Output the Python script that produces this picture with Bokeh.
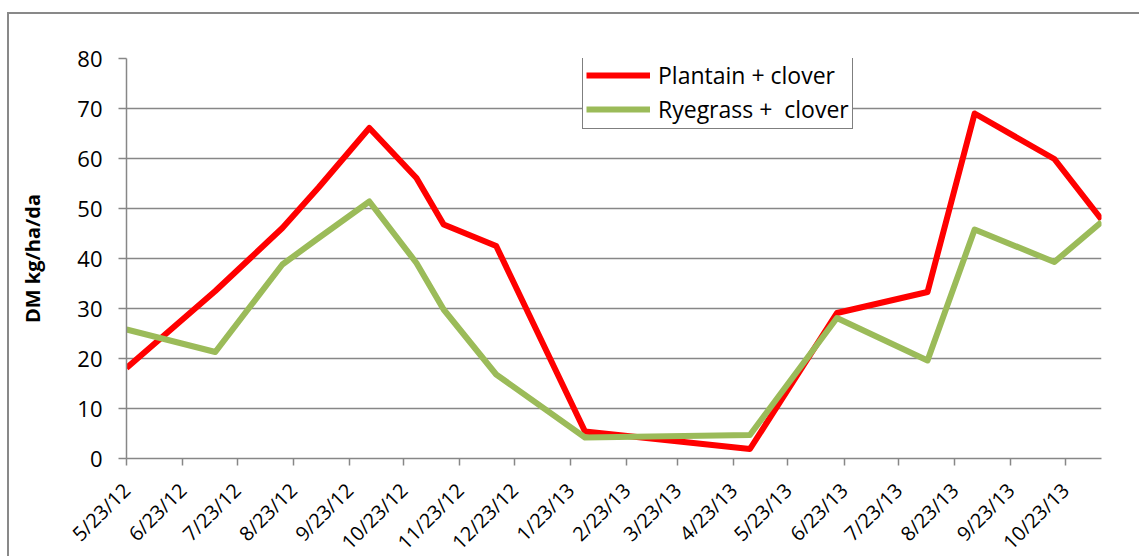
import pandas as pd
from math import pi
from bokeh.plotting import figure
from bokeh.models import FixedTicker, Range1d, Legend, LegendItem
from bokeh.embed import file_html
from bokeh.resources import INLINE

# ---- data ----
dates = ["2012-05-23", "2012-07-11", "2012-08-17", "2012-09-06", "2012-10-04",
         "2012-10-30", "2012-11-14", "2012-12-13", "2013-01-31", "2013-05-02",
         "2013-06-19", "2013-08-08", "2013-09-03", "2013-10-17", "2013-11-12"]
plantain = [18.1, 33.5, 46.1, 54.2, 66.1, 56.1, 46.8, 42.5, 5.4, 1.9,
            29.1, 33.3, 69.0, 59.9, 47.8]
ryegrass = [25.8, 21.3, 38.8, 44.1, 51.4, 39.1, 29.8, 16.8, 4.2, 4.7,
            28.1, 19.6, 45.8, 39.3, 47.3]
series_names = ["Plantain + clover", "Ryegrass +  clover"]
tick_labels = ["5/23/12", "6/23/12", "7/23/12", "8/23/12", "9/23/12", "10/23/12",
               "11/23/12", "12/23/12", "1/23/13", "2/23/13", "3/23/13", "4/23/13",
               "5/23/13", "6/23/13", "7/23/13", "8/23/13", "9/23/13", "10/23/13"]
y_ticks = [0, 10, 20, 30, 40, 50, 60, 70, 80]
x_start, x_end = "2012-05-23", "2013-11-12"
y_label = "DM kg/ha/da"


def ms(ts):
    return int(pd.Timestamp(ts).value // 10**6)


x = [ms(d) for d in dates]
tick_ms = [ms(pd.to_datetime(t, format="%m/%d/%y")) for t in tick_labels]

FONT = "Open Sans"
GRID = "#878787"

p = figure(frame_width=975, frame_height=400, x_axis_type="datetime",
           x_range=Range1d(ms(x_start), ms(x_end)), y_range=Range1d(0, 80),
           output_backend="svg", toolbar_location=None,
           min_border_left=117, min_border_top=44, min_border_right=38,
           min_border_bottom=0)
# outer chart-area frame: only its top and left edges fall inside the window
p.styles = {"margin-left": "7px", "margin-top": "12px",
            "border-top": "2px solid #898989", "border-left": "2px solid #898989",
            "height": "544px", "overflow": "hidden"}
p.outline_line_color = None
p.background_fill_color = "white"
p.border_fill_color = "white"

r1 = p.line(x, plantain, line_color="#FF0000", line_width=6, line_join="round")
r2 = p.line(x, ryegrass, line_color="#9BBB59", line_width=6, line_join="round")

# grid
p.xgrid.grid_line_color = None
p.ygrid.grid_line_color = GRID
p.ygrid.grid_line_width = 1.5

# y axis
p.yaxis.ticker = FixedTicker(ticks=y_ticks)
p.yaxis.axis_line_color = GRID
p.yaxis.axis_line_width = 1.5
p.yaxis.major_tick_line_color = GRID
p.yaxis.major_tick_line_width = 1.5
p.yaxis.major_tick_out = 8
p.yaxis.major_tick_in = 0
p.yaxis.minor_tick_line_color = None
p.yaxis.major_label_text_font = FONT
p.yaxis.major_label_text_font_size = "22px"
p.yaxis.major_label_text_color = "black"
p.yaxis.major_label_standoff = 16
p.yaxis.axis_label = y_label
p.yaxis.axis_label_text_font = FONT
p.yaxis.axis_label_text_font_style = "bold"
p.yaxis.axis_label_text_font_size = "20px"
p.yaxis.axis_label_text_color = "black"
p.yaxis.axis_label_standoff = 28

# x axis
p.xaxis.ticker = FixedTicker(ticks=tick_ms)
p.xaxis.major_label_overrides = {t: l for t, l in zip(tick_ms, tick_labels)}
p.xaxis.major_label_orientation = pi / 4
p.xaxis.axis_line_color = GRID
p.xaxis.axis_line_width = 1.5
p.xaxis.major_tick_line_color = GRID
p.xaxis.major_tick_line_width = 1.5
p.xaxis.major_tick_out = 7
p.xaxis.major_tick_in = 0
p.xaxis.minor_tick_line_color = None
p.xaxis.major_label_text_font = FONT
p.xaxis.major_label_text_font_size = "20px"
p.xaxis.major_label_text_color = "black"
p.xaxis.major_label_standoff = 21

legend = Legend(items=[LegendItem(label=series_names[0], renderers=[r1]),
                       LegendItem(label=series_names[1], renderers=[r2])],
                location=(456, 329))
legend.label_text_font = FONT
legend.label_text_font_size = "23px"
legend.label_text_color = "black"
legend.border_line_color = "black"
legend.border_line_width = 1.5
legend.background_fill_color = "white"
legend.background_fill_alpha = 1
legend.padding = 3
legend.spacing = 2
legend.glyph_width = 64
legend.glyph_height = 20
legend.label_height = 20
legend.label_standoff = 8
legend.margin = 0
p.add_layout(legend, "center")

open("out.html", "w").write(file_html(p, INLINE))
